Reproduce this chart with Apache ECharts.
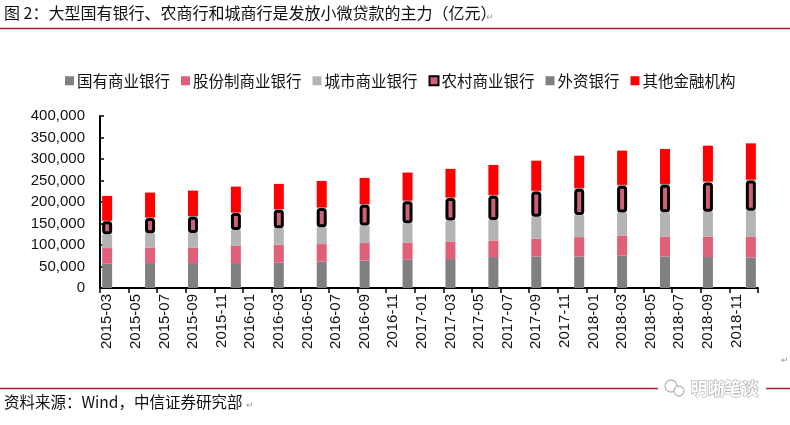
<!DOCTYPE html>
<html><head><meta charset="utf-8">
<script src="https://cdn.jsdelivr.net/npm/echarts@6/dist/echarts.min.js"></script>
<style>html,body{margin:0;padding:0;background:#fff}#c{width:790px;height:425px}</style>
</head><body><div id="c"></div>
<script>
// Month categories on the date axis (labels every other month)
var months = ['2015-03','2015-04','2015-05','2015-06','2015-07','2015-08','2015-09','2015-10','2015-11','2015-12',
'2016-01','2016-02','2016-03','2016-04','2016-05','2016-06','2016-07','2016-08','2016-09','2016-10','2016-11','2016-12',
'2017-01','2017-02','2017-03','2017-04','2017-05','2017-06','2017-07','2017-08','2017-09','2017-10','2017-11','2017-12',
'2018-01','2018-02','2018-03','2018-04','2018-05','2018-06','2018-07','2018-08','2018-09','2018-10','2018-11','2018-12'];
// Quarterly observation dates
var quarters = ['2015-03','2015-06','2015-09','2015-12','2016-03','2016-06','2016-09','2016-12',
'2017-03','2017-06','2017-09','2017-12','2018-03','2018-06','2018-09','2018-12'];
var seriesNames = ['国有商业银行','股份制商业银行','城市商业银行','农村商业银行','外资银行','其他金融机构'];
var stateBanks   = [56400,58000,58000,58000,59400,61700,64100,65700,67300,72000,73300,73300,75700,73300,72000,71000];
var jointStock   = [36400,36200,36200,40800,41100,40400,40400,40200,40900,38500,41100,45000,46400,46400,47800,48700];
var cityBanks    = [32000,33000,33700,36000,38300,39000,40600,44600,48500,47600,51500,51300,53200,56200,57800,60100];
var ruralBanks   = [30200,35500,38000,39500,43400,44800,48700,51100,52500,56600,58700,61300,62700,64300,68000,70300];
var foreignBanks = [1400,1400,1500,1500,1500,1600,1600,1600,1700,1700,1700,1800,1800,1800,1900,1900];
var otherInst    = [57800,57800,59100,60000,58400,61500,60600,65200,66100,69800,69800,75000,79700,81300,83500,84400];
var yTicks = [0,50000,100000,150000,200000,250000,300000,350000,400000];

function toMonthly(arr){
  var out = months.map(function(){return null;});
  quarters.forEach(function(q,i){ out[months.indexOf(q)] = arr[i]; });
  return out;
}
function fmt(v){ return String(v).replace(/\B(?=(\d{3})+(?!\d))/g, ','); }

var styles = [
  {color:'#808080'},
  {color:'#E0607A'},
  {color:'#B4B4B4'},
  {color:'#D0607A', borderColor:'#000', borderWidth:3, borderRadius:2},
  {color:'#7F7F7F'},
  {color:'#FF0000'}
];
var values = [stateBanks, jointStock, cityBanks, ruralBanks, foreignBanks, otherInst];

var chart = echarts.init(document.getElementById('c'), null, {renderer:'canvas'});
var FONT_CJK = '"Noto Sans CJK SC", "Noto Sans", sans-serif';
var FONT_NUM = '"Liberation Sans", Arial, sans-serif';
chart.setOption({
  animation:false,
  backgroundColor:'#fff',
  grid:{left:100, right:32, top:116, bottom:137, containLabel:false},
  legend:{
    top:68, left:60, itemWidth:9, itemHeight:9, itemGap:11,
    textStyle:{fontFamily:FONT_CJK, fontSize:15.5, color:'#111', padding:[0,0,0,-2]},
    data:seriesNames.map(function(n){return {name:n, icon:'rect'};})
  },
  xAxis:{
    type:'category', data:months, boundaryGap:true,
    axisLine:{lineStyle:{color:'#000', width:2}},
    axisTick:{show:true, interval:1, length:5, lineStyle:{color:'#000', width:1.5}},
    axisLabel:{interval:1, rotate:90, margin:6, fontFamily:FONT_NUM, fontSize:15, color:'#111'}
  },
  yAxis:{
    type:'value', min:0, max:400000, interval:50000,
    axisLine:{show:true, lineStyle:{color:'#000', width:2}},
    axisTick:{show:true, inside:true, length:4, lineStyle:{color:'#000', width:1.5}},
    splitLine:{show:false},
    axisLabel:{margin:15, fontFamily:FONT_NUM, fontSize:15, color:'#111', formatter:function(v){return fmt(v);}}
  },
  series: seriesNames.map(function(n,i){
    return {
      name:n, type:'bar', stack:'total', barWidth:10, z: i===3 ? 5 : 2,
      itemStyle:styles[i], data:toMonthly(values[i])
    };
  }),
  graphic:[
    {type:'text', left:4, top:5, style:{text:'图 2：大型国有银行、农商行和城商行是发放小微贷款的主力（亿元）', font:'16px '+FONT_CJK, fill:'#111'}},
    {type:'text', left:486, top:12, style:{text:'↵', font:'9px '+FONT_CJK, fill:'#999'}},
    {type:'line', shape:{x1:0,y1:28.5,x2:790,y2:28.5}, style:{stroke:'#A0202A', lineWidth:1.3}},
    {type:'text', left:781, top:355, style:{text:'↵', font:'9px '+FONT_CJK, fill:'#999'}},
    {type:'line', shape:{x1:0,y1:388.5,x2:790,y2:388.5}, style:{stroke:'#A0202A', lineWidth:1.3}},
    {type:'text', left:4, top:394, style:{text:'资料来源：Wind，中信证券研究部', font:'15.5px '+FONT_CJK, fill:'#111'}},
    {type:'text', left:246, top:400, style:{text:'↵', font:'9px '+FONT_CJK, fill:'#999'}},
    {type:'rect', shape:{x:658,y:378,width:108,height:22}, style:{fill:'#fff'}},
    {type:'circle', shape:{cx:671,cy:386,r:6}, style:{fill:'#fff', stroke:'#bbb', lineWidth:1.3}},
    {type:'circle', shape:{cx:679,cy:391,r:5}, style:{fill:'#fff', stroke:'#bbb', lineWidth:1.3}},
    {type:'text', left:690, top:379, style:{text:'明晰笔谈', font:'bold 17px '+FONT_CJK, fill:'#fff', stroke:'#aaa', lineWidth:1.2}}
  ]
});
</script>
</body></html>
